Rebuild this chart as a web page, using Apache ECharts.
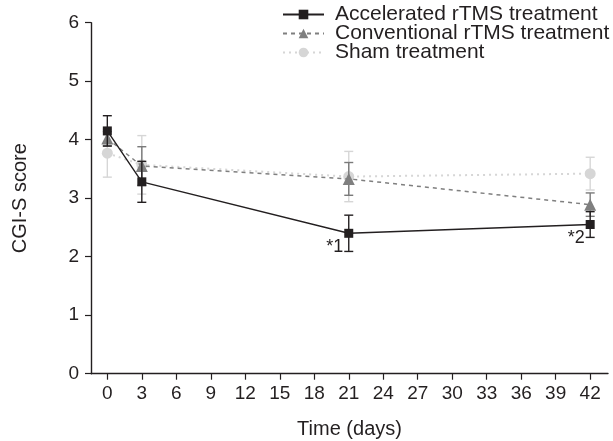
<!DOCTYPE html>
<html>
<head>
<meta charset="utf-8">
<script src="https://cdn.jsdelivr.net/npm/echarts@6/dist/echarts.min.js"></script>
<style>
  html, body { margin: 0; padding: 0; background: #fff; }
  #chart { width: 613px; height: 441px; }
</style>
</head>
<body>
<div id="chart"></div>
<script>
  // data
  const days = [0, 3, 21, 42];
  const xTicks = [0, 3, 6, 9, 12, 15, 18, 21, 24, 27, 30, 33, 36, 39, 42];
  const accelMean = [4.15, 3.28, 2.40, 2.55];
  const accelErr = [0.26, 0.35, 0.31, 0.22];
  const accelNotes = ['', '', '*1', '*2'];
  const convMean = [4.02, 3.55, 3.33, 2.89];
  const convErr = [0.12, 0.33, 0.28, 0.2];
  const shamMean = [3.77, 3.57, 3.37, 3.42];
  const shamErr = [0.41, 0.5, 0.43, 0.28];

  const ink = '#231f20';
  const fontFam = 'Liberation Sans, Arial, sans-serif';

  function errSeries(name, mean, err, color, z) {
    return {
      name: name,
      type: 'custom',
      z: z,
      silent: true,
      data: days.map((d, i) => [d, mean[i] - err[i], mean[i] + err[i]]),
      encode: { x: 0, y: [1, 2] },
      renderItem: function (params, api) {
        const lo = api.coord([api.value(0), api.value(1)]);
        const hi = api.coord([api.value(0), api.value(2)]);
        const w = 4.5;
        const st = { stroke: color, lineWidth: 1.4 };
        return {
          type: 'group',
          children: [
            { type: 'line', shape: { x1: lo[0], y1: lo[1], x2: hi[0], y2: hi[1] }, style: st },
            { type: 'line', shape: { x1: lo[0] - w, y1: lo[1], x2: lo[0] + w, y2: lo[1] }, style: st },
            { type: 'line', shape: { x1: hi[0] - w, y1: hi[1], x2: hi[0] + w, y2: hi[1] }, style: st }
          ]
        };
      }
    };
  }

  const chart = echarts.init(document.getElementById('chart'));
  const option = {
    animation: false,
    textStyle: { fontFamily: fontFam },
    grid: { left: 91, right: 5, top: 22.7, bottom: 67.3, containLabel: false, outerBoundsMode: 'none' },
    legend: {
      left: 277,
      top: -1,
      orient: 'vertical',
      itemWidth: 41,
      itemHeight: 12,
      itemGap: -2,
      data: ['Accelerated rTMS treatment', 'Conventional rTMS treatment', 'Sham treatment'],
      textStyle: { color: ink, fontSize: 21, fontFamily: fontFam, padding: [0, 0, 0, 6] }
    },
    xAxis: {
      type: 'value',
      min: -1.42,
      max: 43.55,
      name: 'Time (days)',
      nameLocation: 'middle',
      nameGap: 46,
      nameTextStyle: { color: ink, fontSize: 20 },
      axisLine: { show: true, onZero: false, lineStyle: { color: ink, width: 1.4 } },
      axisTick: { show: true, length: 6, customValues: xTicks, lineStyle: { color: ink, width: 1.2 } },
      axisLabel: { customValues: xTicks, color: ink, fontSize: 19, margin: 11 },
      splitLine: { show: false }
    },
    yAxis: {
      type: 'value',
      min: 0,
      max: 6,
      interval: 1,
      name: 'CGI-S score',
      nameLocation: 'middle',
      nameGap: 61,
      nameTextStyle: { color: ink, fontSize: 20 },
      axisLine: { show: true, onZero: false, lineStyle: { color: ink, width: 1.4 } },
      axisTick: { show: true, length: 6, lineStyle: { color: ink, width: 1.2 } },
      axisLabel: { color: ink, fontSize: 19, margin: 12 },
      splitLine: { show: false }
    },
    series: [
      errSeries('shamErr', shamMean, shamErr, '#d6d6d6', 1),
      errSeries('convErr', convMean, convErr, '#7a7a7a', 3),
      errSeries('accelErr', accelMean, accelErr, ink, 5),
      {
        name: 'Sham treatment',
        type: 'line',
        z: 2,
        data: days.map((d, i) => [d, shamMean[i]]),
        symbol: 'circle',
        symbolSize: 11,
        itemStyle: { color: '#d6d6d6' },
        lineStyle: { color: '#d6d6d6', width: 2, type: [2, 4] }
      },
      {
        name: 'Conventional rTMS treatment',
        type: 'line',
        z: 4,
        data: days.map((d, i) => [d, convMean[i]]),
        symbol: 'triangle',
        symbolSize: 12,
        itemStyle: { color: '#7f7f7f' },
        lineStyle: { color: '#7f7f7f', width: 1.5, type: [4, 4] }
      },
      {
        name: 'Accelerated rTMS treatment',
        type: 'line',
        z: 6,
        data: days.map((d, i) => ({
          value: [d, accelMean[i]],
          label: {
            show: accelNotes[i] !== '',
            formatter: accelNotes[i],
            position: [-18, 9],
            color: ink,
            fontSize: 18
          }
        })),
        symbol: 'rect',
        symbolSize: 9,
        itemStyle: { color: ink },
        lineStyle: { color: ink, width: 1.4 }
      }
    ]
  };
  chart.setOption(option);
</script>
</body>
</html>
